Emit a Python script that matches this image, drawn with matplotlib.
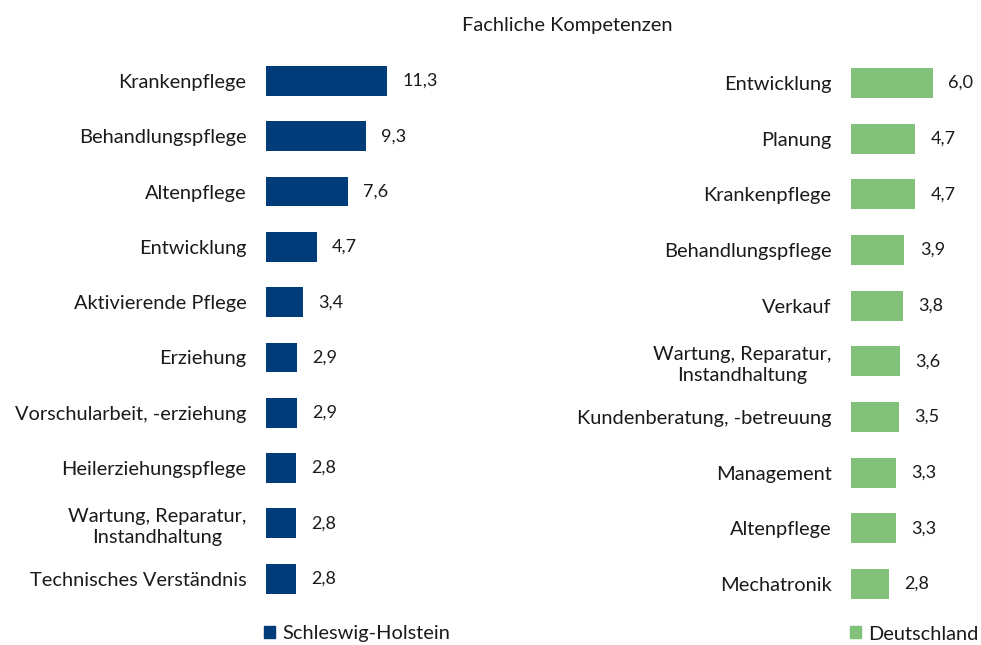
import matplotlib
matplotlib.use("Agg")
import matplotlib.pyplot as plt
from matplotlib.patches import Patch

plt.rcParams['font.family'] = ['Lato', 'DejaVu Sans']

title = "Fachliche Kompetenzen"

sh_labels = ["Krankenpflege", "Behandlungspflege", "Altenpflege", "Entwicklung",
             "Aktivierende Pflege", "Erziehung", "Vorschularbeit, -erziehung",
             "Heilerziehungspflege", "Wartung, Reparatur,\nInstandhaltung",
             "Technisches Verständnis"]
sh_values = [11.3, 9.3, 7.6, 4.7, 3.4, 2.9, 2.9, 2.8, 2.8, 2.8]

de_labels = ["Entwicklung", "Planung", "Krankenpflege", "Behandlungspflege",
             "Verkauf", "Wartung, Reparatur,\nInstandhaltung",
             "Kundenberatung, -betreuung", "Management", "Altenpflege", "Mechatronik"]
de_values = [6.0, 4.7, 4.7, 3.9, 3.8, 3.6, 3.5, 3.3, 3.3, 2.8]

series_names = ["Schleswig-Holstein", "Deutschland"]
colors = ["#003B7A", "#82C17A"]

W, H = 981, 645
fig = plt.figure(figsize=(W / 100, H / 100), dpi=100)

FS = 14.4
TXT = "#1a1a1a"

def fx(px):
    return px / W

def fy(px):
    return 1 - px / H

def panel(left_px, top_px, spacing, px_per_unit, width_px, labels, values, color, name, legend_x):
    n = len(labels)
    height_px = n * spacing
    ax = fig.add_axes([fx(left_px), fy(top_px + height_px), width_px / W, height_px / H])
    y = list(range(n))
    ax.barh(y, values, height=0.54, color=color)
    ax.set_ylim(n - 0.5, -0.5)
    ax.set_xlim(0, width_px / px_per_unit)
    ax.set_yticks(y)
    ax.set_yticklabels(labels, fontsize=FS, color=TXT)
    for lab in ax.get_yticklabels():
        lab.set_multialignment('center')
        lab.set_linespacing(1.3)
    ax.tick_params(axis='y', length=0, pad=14)
    ax.set_xticks([])
    for s in ax.spines.values():
        s.set_visible(False)
    for yi, v in zip(y, values):
        ax.annotate(f"{v:.1f}".replace('.', ','), (v, yi), xytext=(11, 0),
                    textcoords='offset points', va='center', ha='left',
                    fontsize=13, color=TXT)
    fig.legend(handles=[Patch(color=color, label=name)], loc='center left',
               bbox_to_anchor=(fx(legend_x), fy(634)), frameon=False,
               handlelength=0.55, handleheight=0.55, handletextpad=0.35,
               borderpad=0, borderaxespad=0, fontsize=FS, labelcolor=TXT)
    return ax

panel(266, 53.3, 55.3, 10.75, 200, sh_labels, sh_values, colors[0], series_names[0], 264)
panel(851, 55.2, 55.67, 13.7, 120, de_labels, de_values, colors[1], series_names[1], 850)

fig.text(fx(567), fy(25), title, ha='center', va='center', fontsize=FS, color=TXT)

fig.savefig("out.png", dpi=100)
